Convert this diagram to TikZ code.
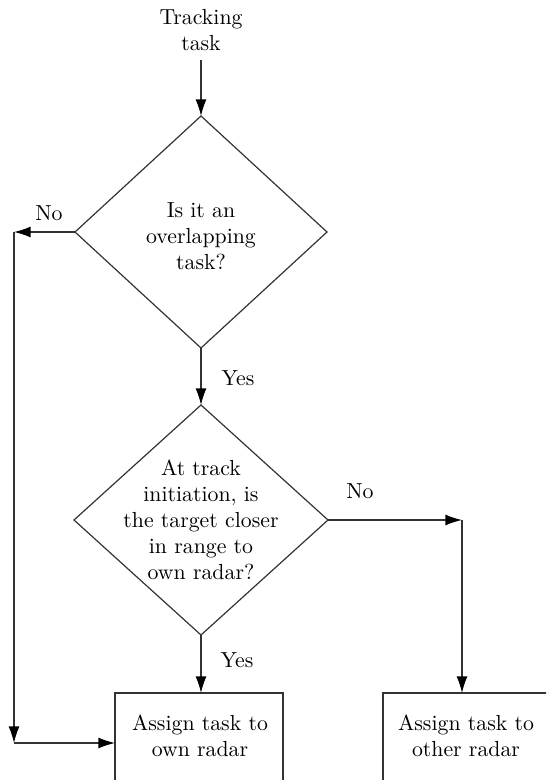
\documentclass[tikz,border=0pt]{standalone}
\usetikzlibrary{shapes.geometric,arrows.meta}
\newlength\pxu
\setlength\pxu{0.459pt}
\begin{document}
\begin{tikzpicture}[x=0.459pt,y=-0.459pt,
  line/.style={draw=black!80,line width=0.55pt},
  arr/.style={line,-{Latex[length=7.6pt,width=5pt,color=black]}},
  decision/.style={line,diamond,shape aspect=1,inner sep=0pt,outer sep=0pt},
  procbox/.style={line,rectangle,inner sep=0pt,outer sep=0pt,
    minimum width=168\pxu,minimum height=100\pxu},
  txt/.style={align=center,inner sep=0pt,font=\normalsize}]
\useasboundingbox (0,0) rectangle (546,780);
\clip (0,0) rectangle (546,780);

% start label
\node[txt] (start) at (201,30) {Tracking\\task};
\coordinate (s0) at (201,60);

% decisions
\node[decision,minimum width=252\pxu,minimum height=232\pxu] (d1) at (201,232) {};
\node[txt] (t1) at (201,236) {Is it an\\overlapping\\task?};

\node[decision,minimum width=254\pxu,minimum height=230\pxu] (d2) at (201,520) {};
\node[txt] (t2) at (201,520) {At track\\initiation, is\\the target closer\\in range to\\own radar?};

% outcome boxes
\node[procbox] (b1) at (199,743) {};
\node[txt] (bt1) at (200,736) {Assign task to\\own radar};
\node[procbox] (b2) at (467,743) {};
\node[txt] (bt2) at (466,736) {Assign task to\\other radar};

% corner points of the side branches
\coordinate (cl) at (14,232);
\coordinate (cb) at (14,743);
\coordinate (cr) at (462,520);

% connectors
\draw[arr] (s0) -- (d1.north);
\draw[arr] (d1.south) -- (d2.north);
\draw[arr] (d2.south) -- (d2.south |- b1.north);
\draw[arr] (d1.west) -- (cl);
\draw[arr] (cl) -- (cb);
\draw[arr] (cb) -- (b1.west);
\draw[arr] (d2.east) -- (cr);
\draw[arr] (cr) -- (cr |- b2.north);

% branch labels
\node[txt] (no1) at (49,213) {No};
\node[txt] (yes1) at (238,378) {Yes};
\node[txt] (no2) at (360,491) {No};
\node[txt] (yes2) at (237,660) {Yes};
\end{tikzpicture}
\end{document}
